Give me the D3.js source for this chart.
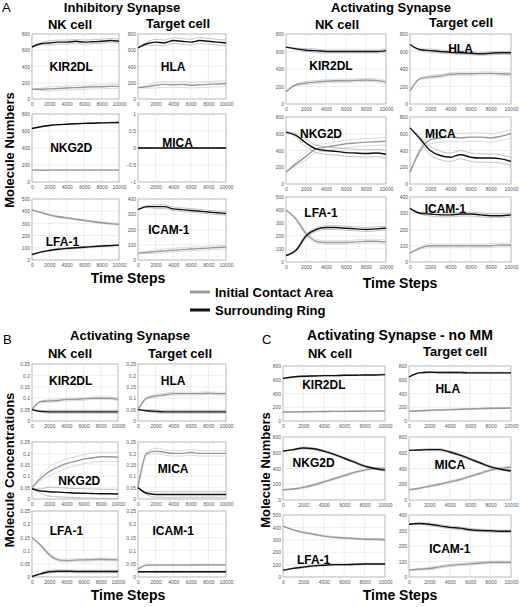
<!DOCTYPE html>
<html><head><meta charset="utf-8">
<script src="https://cdn.jsdelivr.net/npm/d3@7"></script>
<style>body{margin:0;background:#fff}text{font-family:"Liberation Sans",Arial,sans-serif}</style>
</head><body>
<script>
// time points (0..10000 every 1000)
const steps = [0,1000,2000,3000,4000,5000,6000,7000,8000,9000,10000];
const xTicks = [0,2000,4000,6000,8000,10000];
const molecules = ["KIR2DL","HLA","NKG2D","MICA","LFA-1","ICAM-1"];

// A - inhibitory synapse (gray = initial contact area, black = surrounding ring)
const aiKirG = [120,120,125,130,135,140,145,150,150,155,155], aiKirK = [640,680,690,700,700,710,700,705,710,720,710];
const aiHlaG = [140,150,170,180,175,180,170,175,180,185,190], aiHlaK = [630,680,700,690,720,710,700,720,710,700,690];
const aiNkgG = [140,140,140,140,140,140,140,140,140,140,140], aiNkgK = [630,650,665,675,680,685,690,692,695,698,700];
const aiMicG = [0,0,0,0,0,0,0,0,0,0,0], aiMicK = [0,0,0,0,0,0,0,0,0,0,0];
const aiLfaG = [410,390,370,355,345,335,325,315,305,298,292], aiLfaK = [45,65,78,88,95,100,105,110,115,118,122];
const aiIcaG = [45,50,55,60,65,68,72,75,78,82,85], aiIcaK = [330,350,350,350,335,330,325,320,315,310,305];
const aiSpread = [25,35,4,0,6,12];

// A - activating synapse
const aaKirG = [140,220,240,250,260,265,265,270,275,270,250], aaKirK = [650,630,615,610,600,600,600,600,600,600,610];
const aaHlaG = [150,290,310,320,340,345,345,350,350,345,340], aaHlaK = [680,620,610,600,590,585,580,575,580,585,585];
const aaNkgG = [140,240,330,420,440,460,480,490,500,505,510], aaNkgK = [620,580,490,420,400,390,375,370,365,370,355];
const aaMicG = [140,400,530,550,560,550,560,560,550,570,600], aaMicK = [670,540,400,340,320,350,320,310,310,300,270];
const aaLfaG = [400,330,220,160,150,150,150,155,160,160,155], aaLfaK = [50,90,200,250,265,265,260,255,250,255,260];
const aaIcaG = [55,85,100,100,100,100,100,100,100,105,105], aaIcaK = [330,300,295,290,290,295,295,290,285,285,290];
const aaSpread = [18,18,45,50,15,12];

// B - activating synapse, concentrations
const bKirG = [0.05,0.085,0.088,0.09,0.095,0.095,0.097,0.1,0.1,0.1,0.095], bKirK = [0.05,0.042,0.04,0.04,0.04,0.04,0.04,0.04,0.04,0.04,0.04];
const bHlaG = [0.05,0.1,0.11,0.115,0.12,0.12,0.12,0.12,0.122,0.12,0.12], bHlaK = [0.05,0.045,0.042,0.04,0.04,0.04,0.04,0.04,0.04,0.04,0.04];
const bNkgG = [0.05,0.09,0.12,0.14,0.155,0.165,0.175,0.18,0.185,0.185,0.183], bNkgK = [0.045,0.035,0.032,0.03,0.028,0.026,0.025,0.024,0.023,0.023,0.022];
const bMicG = [0.05,0.2,0.21,0.205,0.2,0.2,0.205,0.2,0.2,0.2,0.2], bMicK = [0.05,0.025,0.02,0.02,0.02,0.02,0.02,0.02,0.02,0.02,0.02];
const bLfaG = [0.15,0.12,0.085,0.065,0.062,0.064,0.065,0.066,0.067,0.066,0.065], bLfaK = [0.002,0.012,0.02,0.022,0.022,0.021,0.021,0.021,0.021,0.021,0.021];
const bIcaG = [0.03,0.045,0.045,0.045,0.045,0.045,0.045,0.046,0.046,0.046,0.045], bIcaK = [0.02,0.02,0.02,0.02,0.02,0.02,0.02,0.02,0.02,0.02,0.02];
const bSpread = [0.006,0.006,0.02,0.012,0.005,0.002];

// C - activating synapse, no MM
const cKirG = [130,132,134,136,138,140,140,142,143,144,145], cKirK = [620,640,650,655,660,660,665,665,670,670,675];
const cHlaG = [140,150,155,160,165,170,175,180,185,185,190], cHlaK = [640,700,710,705,705,705,700,700,700,700,700];
const cNkgG = [130,140,160,190,230,270,310,350,380,400,400], cNkgK = [620,640,660,650,620,580,530,480,430,400,380];
const cMicG = [130,150,175,200,230,260,300,340,380,400,420], cMicK = [630,635,640,640,610,570,520,470,420,390,370];
const cLfaG = [410,380,360,345,330,320,315,310,305,305,300], cLfaK = [55,70,80,90,95,100,100,102,105,105,105];
const cIcaG = [45,50,55,65,75,80,85,90,95,95,95], cIcaK = [340,345,340,330,320,315,305,300,298,295,295];
const cSpread = [6,8,12,12,6,8];

const yTicksNum = [[0,200,400,600,800],[0,200,400,600,800],[0,200,400,600,800],[0,200,400,600,800],[0,100,200,300,400,500],[0,100,200,300,400]];
const yTicksMica0 = [-1,-0.5,0,0.5,1];
const yTicksConc = [0,0.05,0.1,0.15,0.2,0.25];

const W = 520, H = 607;
const svg = d3.select("body").append("svg").attr("width", W).attr("height", H);

function txt(x, y, s, size, anchor, extra) {
  const t = svg.append("text").attr("x", x).attr("y", y).text(s)
    .attr("font-size", size).attr("font-weight", "bold").attr("text-anchor", anchor || "middle");
  if (extra) extra(t);
  return t;
}

// one small plot
function plot(x0, x1, y0, y1, gray, black, spread, yTicks, label, labX, labY) {
  const x = d3.scaleLinear().domain([0, 10000]).range([x0, x1]);
  const y = d3.scaleLinear().domain(d3.extent(yTicks)).range([y1, y0]);
  const g = svg.append("g");
  g.append("rect").attr("x", x0).attr("y", y0).attr("width", x1 - x0).attr("height", y1 - y0)
    .attr("fill", "#fff").attr("stroke", "#999").attr("stroke-width", 0.7);
  g.selectAll(".gx").data(xTicks.slice(1, -1)).join("line")
    .attr("x1", d => x(d)).attr("x2", d => x(d)).attr("y1", y0).attr("y2", y1)
    .attr("stroke", "#e2e2e2").attr("stroke-width", 0.6);
  g.selectAll(".gy").data(yTicks.slice(1, -1)).join("line")
    .attr("y1", d => y(d)).attr("y2", d => y(d)).attr("x1", x0).attr("x2", x1)
    .attr("stroke", "#e2e2e2").attr("stroke-width", 0.6);
  const ax = g.append("g").attr("transform", `translate(0,${y1})`)
    .call(d3.axisBottom(x).tickValues(xTicks).tickFormat(d3.format("d")).tickSize(0).tickPadding(3));
  ax.select(".domain").remove();
  ax.selectAll("text").attr("font-size", 5).attr("fill", "#555").attr("font-family", "Liberation Sans");
  const ay = g.append("g").attr("transform", `translate(${x0},0)`)
    .call(d3.axisLeft(y).tickValues(yTicks).tickFormat(d3.format("~g")).tickSize(0).tickPadding(2));
  ay.select(".domain").remove();
  ay.selectAll("text").attr("font-size", 5).attr("fill", "#555").attr("font-family", "Liberation Sans");
  const line = d3.line().x((d, i) => x(steps[i])).y(d => y(d)).curve(d3.curveMonotoneX);
  [[gray, "#999", "#ccc"], [black, "#111", "#aaa"]].forEach(([s, c, lc]) => {
    if (spread > 0) {
      [1, -1].forEach(k => g.append("path").attr("d", line(s.map((v, i) => v + k * spread * Math.min(1, i / 2))))
        .attr("fill", "none").attr("stroke", lc).attr("stroke-width", 0.7));
    }
    g.append("path").attr("d", line(s)).attr("fill", "none").attr("stroke", c).attr("stroke-width", 1.4);
  });
  txt(labX, labY, label, 12);
}

const groups = [
  { data: [[aiKirG,aiKirK],[aiHlaG,aiHlaK],[aiNkgG,aiNkgK],[aiMicG,aiMicK],[aiLfaG,aiLfaK],[aiIcaG,aiIcaK]], spread: aiSpread,
    cols: [[32,119],[138,226]], rows: [[34,99],[114,182],[199,260]], ticks: yTicksNum.map((t, i) => i === 3 ? yTicksMica0 : t) },
  { data: [[aaKirG,aaKirK],[aaHlaG,aaHlaK],[aaNkgG,aaNkgK],[aaMicG,aaMicK],[aaLfaG,aaLfaK],[aaIcaG,aaIcaK]], spread: aaSpread,
    cols: [[286,386],[410,511]], rows: [[34,104],[117,184],[197,262]], ticks: yTicksNum },
  { data: [[bKirG,bKirK],[bHlaG,bHlaK],[bNkgG,bNkgK],[bMicG,bMicK],[bLfaG,bLfaK],[bIcaG,bIcaK]], spread: bSpread,
    cols: [[32,118],[138,226]], rows: [[364,421],[442,499],[511,577]], ticks: molecules.map(() => yTicksConc) },
  { data: [[cKirG,cKirK],[cHlaG,cHlaK],[cNkgG,cNkgK],[cMicG,cMicK],[cLfaG,cLfaK],[cIcaG,cIcaK]], spread: cSpread,
    cols: [[283,385],[409,511]], rows: [[366,421],[437,500],[515,577]], ticks: yTicksNum }
];
// label offsets (fraction of plot width/height) per molecule, per group
const labPos = [
  [[0.45,0.5],[0.4,0.5],[0.45,0.5],[0.45,0.42],[0.35,0.7],[0.35,0.5]],
  [[0.45,0.45],[0.5,0.22],[0.35,0.25],[0.3,0.25],[0.35,0.25],[0.35,0.18]],
  [[0.45,0.3],[0.4,0.3],[0.55,0.68],[0.4,0.48],[0.4,0.3],[0.4,0.3]],
  [[0.4,0.35],[0.38,0.42],[0.3,0.42],[0.4,0.45],[0.3,0.72],[0.4,0.55]]
];

groups.forEach((gr, gi) => {
  molecules.forEach((m, mi) => {
    const [cx0, cx1] = gr.cols[mi % 2], [ry0, ry1] = gr.rows[Math.floor(mi / 2)];
    const lp = labPos[gi][mi];
    plot(cx0, cx1, ry0, ry1, gr.data[mi][0], gr.data[mi][1], gr.spread[mi], gr.ticks[mi], m,
      cx0 + (cx1 - cx0) * lp[0], ry0 + (ry1 - ry0) * lp[1] + 4);
  });
});

// titles
svg.append("text").attr("x", 2).attr("y", 12).text("A").attr("font-size", 13);
svg.append("text").attr("x", 3).attr("y", 344).text("B").attr("font-size", 13);
svg.append("text").attr("x", 262).attr("y", 344).text("C").attr("font-size", 13);
txt(122, 12, "Inhibitory Synapse", 13);
txt(70, 29, "NK cell", 13); txt(178, 28, "Target cell", 13);
txt(391, 12, "Activating Synapse", 13);
txt(337, 29, "NK cell", 13); txt(461, 27, "Target cell", 13);
txt(128, 283, "Time Steps", 14); txt(400, 288, "Time Steps", 14);
txt(130, 340, "Activating Synapse", 13);
txt(70, 358, "NK cell", 13); txt(180, 358, "Target cell", 13);
txt(128, 600, "Time Steps", 14);
txt(400, 340, "Activating Synapse - no MM", 14);
txt(330, 358, "NK cell", 13); txt(455, 356, "Target cell", 13);
txt(400, 600, "Time Steps", 14);
txt(14, 150, "Molecule Numbers", 13, "middle", t => t.attr("transform", "rotate(-90,14,150)"));
txt(14, 470, "Molecule Concentrations", 13, "middle", t => t.attr("transform", "rotate(-90,14,470)"));
txt(270, 470, "Molecule Numbers", 13, "middle", t => t.attr("transform", "rotate(-90,270,470)"));

// legend
const legend = [["Initial Contact Area", "#999"], ["Surrounding Ring", "#111"]];
svg.selectAll(".lg").data(legend).join("line")
  .attr("x1", 190).attr("x2", 210).attr("y1", (d, i) => 292 + i * 18).attr("y2", (d, i) => 292 + i * 18)
  .attr("stroke", d => d[1]).attr("stroke-width", 3);
legend.forEach((d, i) => txt(215, 297 + i * 18, d[0], 13, "start"));
</script>
</body></html>
